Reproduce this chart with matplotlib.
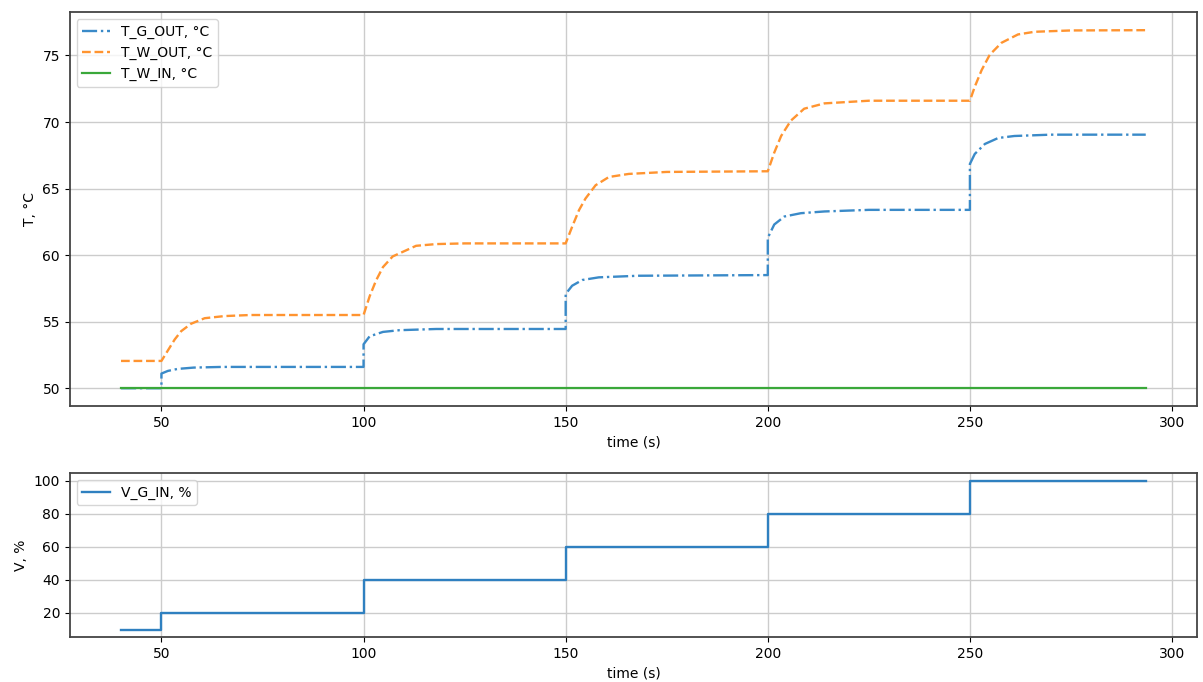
import matplotlib
matplotlib.use("Agg")
import matplotlib.pyplot as plt

# --- data ---
t_w_out = [40, 50, 51.6, 53.3, 54.9, 57.3, 60.7, 65.6, 72,
           100, 101.5, 103.1, 104.8, 107.2, 113, 118, 125,
           150, 151.6, 153.3, 154.9, 157.4, 160.7, 165.6, 175,
           200, 201.6, 203.3, 205.7, 209, 214, 225,
           250, 251.2, 252.9, 254.9, 257.8, 261.9, 266, 275, 293.5]
T_W_OUT = [52.05, 52.05, 52.84, 53.67, 54.29, 54.84, 55.26, 55.42, 55.5,
           55.5, 56.9, 58.1, 59.1, 59.9, 60.7, 60.83, 60.88,
           60.88, 62.13, 63.38, 64.25, 65.25, 65.87, 66.1, 66.25,
           66.3, 67.7, 68.95, 70.1, 71.0, 71.4, 71.6,
           71.6, 72.65, 73.9, 75.05, 75.95, 76.58, 76.78, 76.88, 76.9]

t_g_out = [40, 50, 50, 51.6, 54, 58, 65,
           100, 100, 101.5, 104.8, 108.9, 118,
           150, 150, 151.6, 154.1, 158.2, 168,
           200, 200, 201.6, 204.1, 208.2, 214, 225,
           250, 250, 251.2, 253.7, 257, 261, 270, 293.5]
T_G_OUT = [50.0, 50.0, 51.1, 51.3, 51.45, 51.55, 51.6,
           51.6, 53.3, 53.9, 54.23, 54.36, 54.45,
           54.45, 57.08, 57.7, 58.13, 58.33, 58.45,
           58.5, 61.3, 62.3, 62.9, 63.15, 63.28, 63.4,
           63.4, 66.85, 67.6, 68.35, 68.8, 68.95, 69.05, 69.05]

t_w_in = [40, 293.5]
T_W_IN = [50, 50]

t_v = [40, 50, 100, 150, 200, 250, 293.5]
V_G_IN = [10, 20, 40, 60, 80, 100, 100]

# --- plot ---
fig, (ax1, ax2) = plt.subplots(2, 1, figsize=(12.03, 6.82), dpi=100,
                               gridspec_kw={'height_ratios': [394, 164]})
fig.subplots_adjust(left=0.058, right=0.995, top=0.982, bottom=0.066, hspace=0.24)

ax1.plot(t_g_out, T_G_OUT, '-.', color='#3a8ac8', lw=1.7, label='T_G_OUT, °C')
ax1.plot(t_w_out, T_W_OUT, '--', color='#ff9430', lw=1.7, label='T_W_OUT, °C')
ax1.plot(t_w_in, T_W_IN, '-', color='#3aa83a', lw=1.6, label='T_W_IN, °C')
ax1.set_xlabel('time (s)')
ax1.set_ylabel('T, °C')
ax1.legend(loc='upper left')

ax2.plot(t_v, V_G_IN, drawstyle='steps-post', color='#2f80c0', lw=1.7, label='V_G_IN, %')
ax2.set_xlabel('time (s)')
ax2.set_ylabel('V, %')
ax2.legend(loc='upper left')

for ax in (ax1, ax2):
    ax.grid(True, color='#cccccc', lw=1.0)
    for s in ax.spines.values():
        s.set_linewidth(1.3)
        s.set_color('#444444')

plt.savefig('out.png')
